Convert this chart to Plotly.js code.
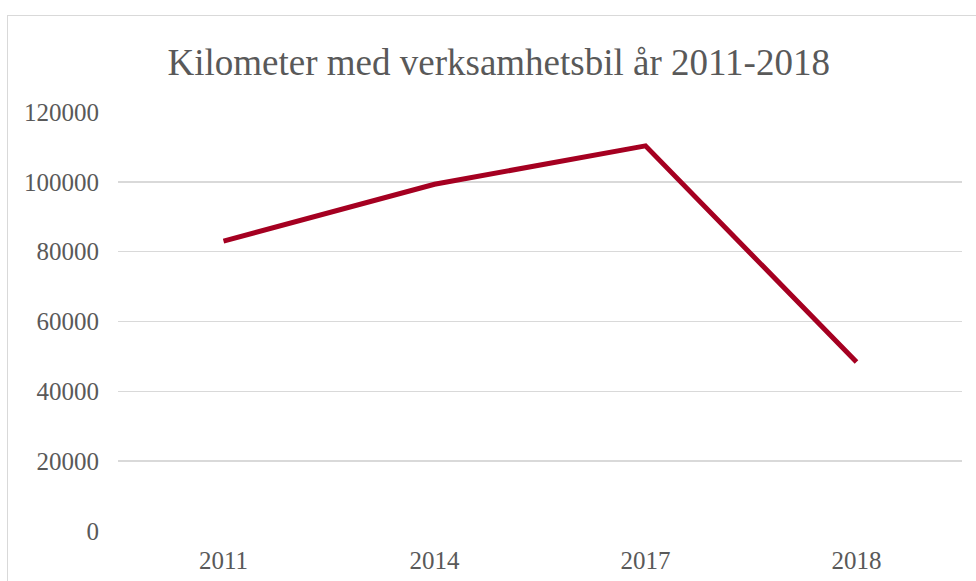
<!DOCTYPE html>
<html>
<head>
<meta charset="utf-8">
<script src="https://cdn.plot.ly/plotly-3.0.1.min.js"></script>
<style>
  html, body { margin: 0; padding: 0; overflow: hidden; background: #fff; }
  #chart { position: absolute; left: 0; top: 0; width: 976px; height: 581px; }
  #frame { position: absolute; left: 7px; top: 15px; width: 1000px; height: 600px;
           border: 1.5px solid #d9d9d9; pointer-events: none; }
</style>
</head>
<body>
<div id="chart"></div>
<div id="frame"></div>
<script>
const years = ['2011', '2014', '2017', '2018'];
const kilometers = [83000, 99300, 110300, 48400];
const yTicks = [0, 20000, 40000, 60000, 80000, 100000, 120000];

const trace = {
  x: years,
  y: kilometers,
  type: 'scatter',
  mode: 'lines',
  line: { color: '#A50021', width: 5 },
  hoverinfo: 'x+y'
};

const serif = 'Liberation Serif, Times New Roman, serif';

const layout = {
  width: 976,
  height: 581,
  margin: { l: 118, r: 14, t: 112, b: 50 },
  paper_bgcolor: '#ffffff',
  plot_bgcolor: '#ffffff',
  showlegend: false,
  title: {
    text: 'Kilometer med verksamhetsbil år 2011-2018',
    font: { family: serif, size: 37, color: '#595959' },
    x: 0.511, xanchor: 'center',
    y: 0.893, yanchor: 'middle', yref: 'container'
  },
  xaxis: {
    type: 'category',
    range: [-0.5, 3.5],
    showgrid: false,
    zeroline: false,
    showline: false,
    ticks: '',
    ticklabelstandoff: 12,
    tickfont: { family: serif, size: 25, color: '#595959' }
  },
  yaxis: {
    range: [0, 120000],
    tickvals: yTicks,
    ticktext: yTicks.map(String),
    showgrid: true,
    gridcolor: '#d9d9d9',
    gridwidth: 1.5,
    zeroline: false,
    showline: false,
    ticks: '',
    ticklabelstandoff: 18,
    tickfont: { family: serif, size: 25, color: '#595959' }
  }
};

Plotly.newPlot('chart', [trace], layout, { displayModeBar: false, staticPlot: true });
</script>
</body>
</html>
